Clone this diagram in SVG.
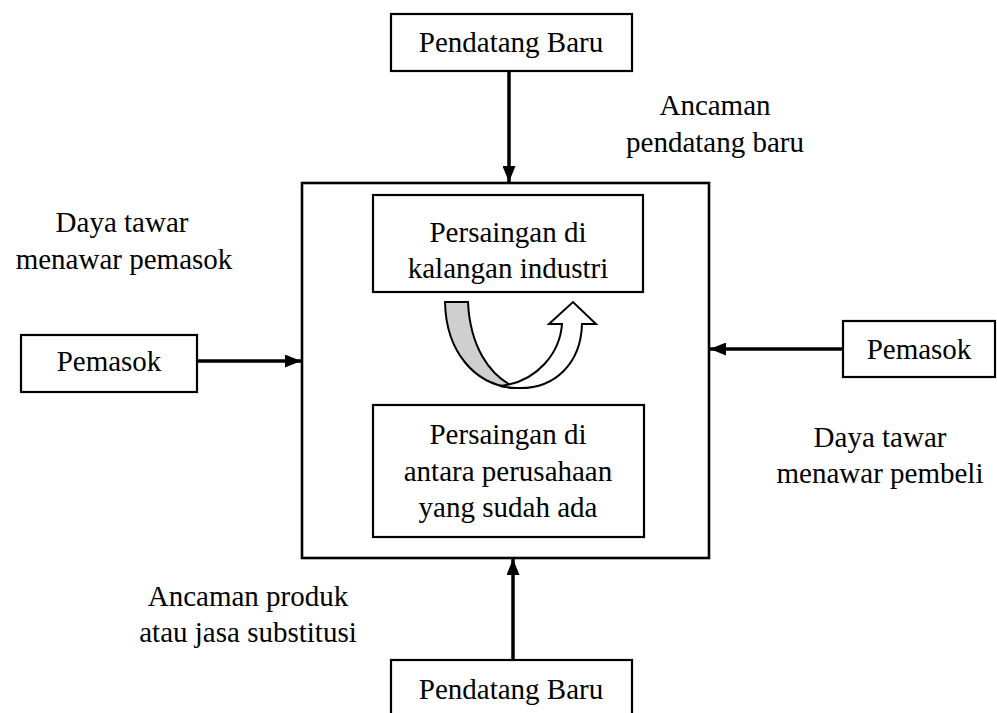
<svg xmlns="http://www.w3.org/2000/svg" width="997" height="713" viewBox="0 0 997 713">
  <defs>
    <style>
      text { font-family: 'Liberation Serif', 'DejaVu Serif', 'Times New Roman', serif; font-size: 29px; fill: #000; text-anchor: middle; }
      .box { fill: #fff; stroke: #000; stroke-width: 2.2; }
      .frame { fill: #fff; stroke: #000; stroke-width: 2.6; }
      .conn { stroke: #000; stroke-width: 3.5; fill: none; }
    </style>
    <marker id="head" viewBox="0 0 16 13" refX="16" refY="6.5" markerWidth="16" markerHeight="13" markerUnits="userSpaceOnUse" orient="auto">
      <path d="M0,0 L16,6.5 L0,13 Z" fill="#000"/>
    </marker>
  </defs>

  <rect width="997" height="713" fill="#fff"/>

  <!-- central industry frame -->
  <g id="industry">
    <rect class="frame" x="302" y="183" width="407" height="375"/>
  </g>

  <g id="rivalry-industry">
    <rect class="box" x="373" y="195" width="270" height="97"/>
    <text x="508" y="242" font-family="Liberation Serif, serif">Persaingan di</text>
    <text x="508" y="278" font-family="Liberation Serif, serif">kalangan industri</text>
  </g>

  <g id="rivalry-firms">
    <rect class="box" x="373" y="405" width="271" height="132"/>
    <text x="508" y="444" font-family="Liberation Serif, serif">Persaingan di</text>
    <text x="508" y="481" font-family="Liberation Serif, serif">antara perusahaan</text>
    <text x="508" y="517" font-family="Liberation Serif, serif">yang sudah ada</text>
  </g>

  <!-- U-turn arrow between the two rivalry boxes -->
  <g id="cycle-arrow" stroke="#000" stroke-width="2" stroke-linejoin="miter">
    <path d="M445,302 L468,302 C470,345 488,375 516,388 C475,386 446,352 445,302 Z" fill="#cfcfcf"/>
    <path d="M500,386 C538,382 560,352 562,324 L549,324 L573,302 L596,324 L582,324 C581,362 556,390 516,388 C510,388 505,387 500,386 Z" fill="#fff"/>
  </g>

  <g id="entrant-top">
    <rect class="box" x="391" y="14" width="241" height="57"/>
    <text x="511" y="52" font-family="Liberation Serif, serif">Pendatang Baru</text>
  </g>

  <g id="entrant-bottom">
    <rect class="box" x="391" y="660" width="241" height="70"/>
    <text x="511" y="699" font-family="Liberation Serif, serif">Pendatang Baru</text>
  </g>

  <g id="supplier">
    <rect class="box" x="21" y="335" width="176" height="57"/>
    <text x="109" y="371" font-family="Liberation Serif, serif">Pemasok</text>
  </g>

  <g id="buyer">
    <rect class="box" x="843" y="321" width="152" height="56"/>
    <text x="919" y="359" font-family="Liberation Serif, serif">Pemasok</text>
  </g>

  <!-- force connectors -->
  <g id="connectors">
    <line class="conn" x1="509" y1="71" x2="509" y2="182" marker-end="url(#head)"/>
    <line class="conn" x1="513" y1="660" x2="513" y2="559" marker-end="url(#head)"/>
    <line class="conn" x1="197" y1="361" x2="301" y2="361" marker-end="url(#head)"/>
    <line class="conn" x1="843" y1="349" x2="710" y2="349" marker-end="url(#head)"/>
  </g>

  <!-- force labels -->
  <g id="labels" font-family="Liberation Serif, serif">
    <text x="715" y="115">Ancaman</text>
    <text x="715" y="152">pendatang baru</text>
    <text x="122" y="232">Daya tawar</text>
    <text x="124" y="269">menawar pemasok</text>
    <text x="880" y="447">Daya tawar</text>
    <text x="880" y="483">menawar pembeli</text>
    <text x="248" y="606">Ancaman produk</text>
    <text x="248" y="642">atau jasa substitusi</text>
  </g>
</svg>
